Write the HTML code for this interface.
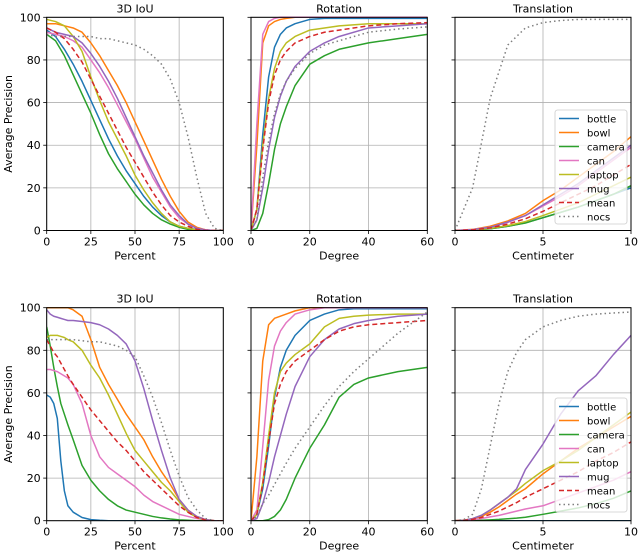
<!DOCTYPE html>
<html><head><meta charset="utf-8"><style>
html,body{margin:0;padding:0;background:#fff;}
svg{display:block;font-family:"DejaVu Sans","Liberation Sans",sans-serif;}
</style></head><body>
<svg id="chart" width="640" height="556" viewBox="0 0 640 556" xmlns="http://www.w3.org/2000/svg"></svg>
<script>
// ---- data ----
const seriesNames = ["bottle","bowl","camera","can","laptop","mug","mean","nocs"];
// Top row
const iouXTop = [0,5,10,15,20,25,30,35,40,45,50,55,60,65,70,75,80,85,90,95,100];
const iouTopBottle = [94,91,85,78,70,61,52,43,35,28,22,16,11,7,4,2,1,0.5,0,0,0];
const iouTopBowl   = [97,97,96,95,93,88,82,75,68,60,51,42,33,24,16,9,4,1.5,0.3,0,0];
const iouTopCamera = [92,89,82,73,64,55,45,36,29,23,17,12,8,5,3,1.5,0.5,0,0,0,0];
const iouTopCan    = [93,92,91,89,86,80,74,67,59,51,43,34,25,18,11,6,3,1,0.3,0,0];
const iouTopLaptop = [99,98,96,91,84,72,61,51,43,35,26,19,13,8,4,2,1,0.3,0,0,0];
const iouTopMug    = [95,93,92,91,88,83,77,70,62,53,44,35,27,19,12,7,3,1,0.3,0,0];
const iouTopMean   = [95,93,90,85,79,71,63,55,47,39,32,25,18,12,7,4,2,0.5,0,0,0];
const iouTopNocs   = [92,91,91,91,91,91,90,90,89,88,87,85,82,78,71,60,44,25,8,1,0];

const rotXTop = [0,2,4,6,8,10,12,15,20,25,30,40,50,60];
const rotTopBottle = [0,10,45,72,86,92,95,97,99,99.5,99.5,99.5,99.5,99.5];
const rotTopBowl   = [0,40,88,96,98,99,99.5,100,100,100,100,100,100,100];
const rotTopCamera = [0,1,8,22,38,50,58,68,78,82,85,88,90,92];
const rotTopCan    = [0,50,92,98,99.5,100,100,100,100,100,100,100,100,100];
const rotTopLaptop = [0,10,40,62,76,84,88,91,94,95,96,97,97,97];
const rotTopMug    = [0,5,20,38,53,63,70,77,84,88,91,95,96,97];
const rotTopMean   = [0,10,38,60,73,80,84,88,91,93,94,96,97,97.5];
const rotTopNocs   = [0,5,25,42,55,64,70,76,83,87,89,93,94.5,95.5];

const trXTop = [0,1,2,3,4,5,6,7,8,9,10];
const trTopBottle = [0,0.2,0.8,2,3.6,6,8.5,11,14,17,20];
const trTopBowl   = [0,0.5,2,4.5,8,14,19,25,31,37,44];
const trTopCamera = [0,0.2,0.8,2,3.5,6,8.5,11,14,17,21];
const trTopCan    = [0,0.4,1.5,3.8,7,11.5,16,21,27,33,39];
const trTopLaptop = [0,0.2,1,2.3,4.2,7,10,13,17,21,25];
const trTopMug    = [0,0.4,1.5,4,7,12,17,22,28,34,40];
const trTopMean   = [0,0.3,1.2,3,5.5,9,13,17,21,26,31];
const trTopNocs   = [0,20,62,87,95,97.5,98.5,99,99,99,99];

// Bottom row
const iouXBot = [0,2,4,6,8,10,12,15,20,25,30,35,40,45,50,55,60,65,70,75,80,85,90,95,100];
const iouBotBottle = [59,58,55,48,28,14,7,4,1.5,0.5,0.2,0,0,0,0,0,0,0,0,0,0,0,0,0,0];
const iouBotBowl   = [100,100,100,100,100,100,100,99,96,85,72,64,57,50,44,38,30,23,17,10,5,2,0.5,0,0];
const iouBotCamera = [91,82,72,63,55,50,45,38,26,19,14,10,7,5,4,3,2,1.3,0.8,0.4,0.2,0,0,0,0];
const iouBotCan    = [71,71,70.5,70,69,68,67,64,55,40,30,25,22,19,16,12,9,7,5,3,2,1,0.3,0,0];
const iouBotLaptop = [86,87,87,87,86.5,86,85,84,80,73,67,59,50,41,33,28,23,18,14,9,4,1.5,0.3,0,0];
const iouBotMug    = [99,97,96,95.5,95,94.5,94,94,93.5,93,92,90,87,83,75,62,47,33,20,10,5,2,0.5,0,0];
const iouBotMean   = [85,82,79,77,74,71,68,64,58,52,47,42,37,33,28,23,19,15,11,7,4,1.5,0.3,0,0];
const iouBotNocs   = [85,85,85,85,85,85,85,85,84.5,84,84,83,82,80,77,68,58,46,33,21,11,5,1,0,0];

const rotXBot = [0,2,4,6,8,10,12,15,20,25,30,35,40,50,60];
const rotBotBottle = [0,3,15,35,58,72,80,87,94,97,99,99.5,99.5,99.5,99.5];
const rotBotBowl   = [0,30,75,92,95,96,97,98.5,100,100,100,100,100,100,100];
const rotBotCamera = [0,0,0,0.5,2,5,10,20,34,45,58,64,67,70,72];
const rotBotCan    = [0,5,35,66,82,89,93,97,99,100,100,100,100,100,100];
const rotBotLaptop = [0,3,18,40,60,70,74,78,83,91,95,96,96.5,97,97];
const rotBotMug    = [0,1,8,18,30,40,50,63,77,85,90,92.5,94,96,97];
const rotBotMean   = [0,3,17,37,55,64,70,75,80,85,89,91,92,93,94];
const rotBotNocs   = [0,2,8,12,17,22,27,34,44,54,63,70,76,88,98];

const trXBot = [0,0.5,1,1.5,2,2.5,3,3.5,4,5,6,7,8,9,10];
const trBotBottle = [0,0,0,0,0,0,0,0,0,0,0,0,0,0,0];
const trBotBowl   = [0,0.2,0.8,2,4,6.5,9.5,12.5,15,22,28,34,39,44,49];
const trBotCamera = [0,0,0.1,0.2,0.4,0.6,0.9,1.2,1.6,3,4.5,6,8,10.5,14];
const trBotCan    = [0,0.1,0.5,1,1.8,2.5,3.5,4.5,5.5,7,10,13,16,19,23];
const trBotLaptop = [0,0.2,1,2.5,5,8,11,14,17.5,23.5,28,33,39,45,51];
const trBotMug    = [0,0.2,1,2.5,5,8,11,15,24,36,50,61,68,78,87];
const trBotMean   = [0,0.2,0.6,1.5,3,4.5,6.5,8.5,11,15,19,23,28,32,37];
const trBotNocs   = [0,0.5,3,15,35,55,70,79,85,91,94,96,97,97.5,98];

const yTicks = [0,20,40,60,80,100];
const iouTicks = [0,25,50,75,100];
const rotTicks = [0,20,40,60];
const trTicks = [0,5,10];

// ---- styles / layout ----
const colors = ["#1f77b4","#ff7f0e","#2ca02c","#e377c2","#bcbd22","#9467bd","#d62728","#7f7f7f"];
const dashes = ["","","","","","","5,3","1.5,3"];
const NS = "http://www.w3.org/2000/svg";
const svg = document.getElementById("chart");
function mk(tag, attrs, parent){ const e=document.createElementNS(NS,tag); for(const k in attrs) e.setAttribute(k,attrs[k]); (parent||svg).appendChild(e); return e; }

const rows = [{top:17.3,bot:230.5},{top:307.7,bot:520.7}];
const cols = [{l:46.7,r:223.3},{l:251,r:427.3},{l:455,r:631}];

const panels = [
 {row:0,col:0,title:"3D IoU",xl:"Percent",xmax:100,ticks:iouTicks,x:iouXTop,s:[iouTopBottle,iouTopBowl,iouTopCamera,iouTopCan,iouTopLaptop,iouTopMug,iouTopMean,iouTopNocs],name:"top-iou"},
 {row:0,col:1,title:"Rotation",xl:"Degree",xmax:60,ticks:rotTicks,x:rotXTop,s:[rotTopBottle,rotTopBowl,rotTopCamera,rotTopCan,rotTopLaptop,rotTopMug,rotTopMean,rotTopNocs],name:"top-rotation"},
 {row:0,col:2,title:"Translation",xl:"Centimeter",xmax:10,ticks:trTicks,x:trXTop,s:[trTopBottle,trTopBowl,trTopCamera,trTopCan,trTopLaptop,trTopMug,trTopMean,trTopNocs],name:"top-translation",legend:110},
 {row:1,col:0,title:"3D IoU",xl:"Percent",xmax:100,ticks:iouTicks,x:iouXBot,s:[iouBotBottle,iouBotBowl,iouBotCamera,iouBotCan,iouBotLaptop,iouBotMug,iouBotMean,iouBotNocs],name:"bottom-iou"},
 {row:1,col:1,title:"Rotation",xl:"Degree",xmax:60,ticks:rotTicks,x:rotXBot,s:[rotBotBottle,rotBotBowl,rotBotCamera,rotBotCan,rotBotLaptop,rotBotMug,rotBotMean,rotBotNocs],name:"bottom-rotation"},
 {row:1,col:2,title:"Translation",xl:"Centimeter",xmax:10,ticks:trTicks,x:trXBot,s:[trBotBottle,trBotBowl,trBotCamera,trBotCan,trBotLaptop,trBotMug,trBotMean,trBotNocs],name:"bottom-translation",legend:398}
];

panels.forEach(p=>{
  const R=rows[p.row], C=cols[p.col];
  const g=mk("g",{});
  
  
  const sx=v=>C.l+(v/p.xmax)*(C.r-C.l);
  const sy=v=>R.bot-(v/100)*(R.bot-R.top);
  // grid
  yTicks.forEach(t=>{ const l=mk("line",{x1:C.l,x2:C.r,y1:sy(t),y2:sy(t),stroke:"#b0b0b0","stroke-width":0.8},g);
      });
  p.ticks.forEach(t=>{ const l=mk("line",{x1:sx(t),x2:sx(t),y1:R.top,y2:R.bot,stroke:"#b0b0b0","stroke-width":0.8},g);
      });
  // series
  const clipId="clip"+p.name;
  const cp=mk("clipPath",{id:clipId},g); mk("rect",{x:C.l,y:R.top-2,width:C.r-C.l,height:R.bot-R.top+2},cp);
  p.s.forEach((arr,i)=>{
    const d=arr.map((v,j)=>(j?"L":"M")+sx(p.x[j]).toFixed(2)+","+sy(v).toFixed(2)).join(" ");
    const path=mk("path",{d:d,fill:"none",stroke:colors[i],"stroke-width":1.5,"stroke-dasharray":dashes[i],"clip-path":"url(#"+clipId+")","stroke-linejoin":"round"},g);
    
    
  });
  // frame
  const fr=mk("rect",{x:C.l,y:R.top,width:C.r-C.l,height:R.bot-R.top,fill:"none",stroke:"#000","stroke-width":1},g);
   
  // x ticks
  p.ticks.forEach(t=>{
    mk("line",{x1:sx(t),x2:sx(t),y1:R.bot,y2:R.bot+3.5,stroke:"#000","stroke-width":0.8},g);
    const tx=mk("text",{x:sx(t),y:R.bot+15,"text-anchor":"middle","font-size":11},g); tx.textContent=t;
     
  });
  // y ticks
  yTicks.forEach(t=>{
    mk("line",{x1:C.l-3.5,x2:C.l,y1:sy(t),y2:sy(t),stroke:"#000","stroke-width":0.8},g);
    if(p.col===0){ const tx=mk("text",{x:C.l-6,y:sy(t)+4,"text-anchor":"end","font-size":11},g); tx.textContent=t;
        }
  });
  const ti=mk("text",{x:(C.l+C.r)/2,y:R.top-5,"text-anchor":"middle","font-size":11},g); ti.textContent=p.title;
   
  const xl=mk("text",{x:(C.l+C.r)/2,y:R.bot+29,"text-anchor":"middle","font-size":11},g); xl.textContent=p.xl;
   
  if(p.col===0){ const cy=(R.top+R.bot)/2; const yl=mk("text",{x:12,y:cy,"text-anchor":"middle","font-size":11,transform:"rotate(-90 12 "+cy+")"},g); yl.textContent="Average Precision";
      }
  if(p.legend){
    const lg=mk("g",{},g);
     
    const ly=p.legend;
    mk("rect",{x:555,y:ly,width:72,height:114,rx:2.5,fill:"#fff","fill-opacity":0.8,stroke:"#ccc","stroke-width":0.8},lg);
    seriesNames.forEach((n,i)=>{
      const yy=ly+8.5+i*14;
      const e=mk("g",{},lg);
       
      mk("line",{x1:559,x2:579,y1:yy,y2:yy,stroke:colors[i],"stroke-width":1.5,"stroke-dasharray":dashes[i]},e);
      const t=mk("text",{x:587,y:yy+3.8,"font-size":10},e); t.textContent=n;
    });
  }
});
</script>
</body></html>
